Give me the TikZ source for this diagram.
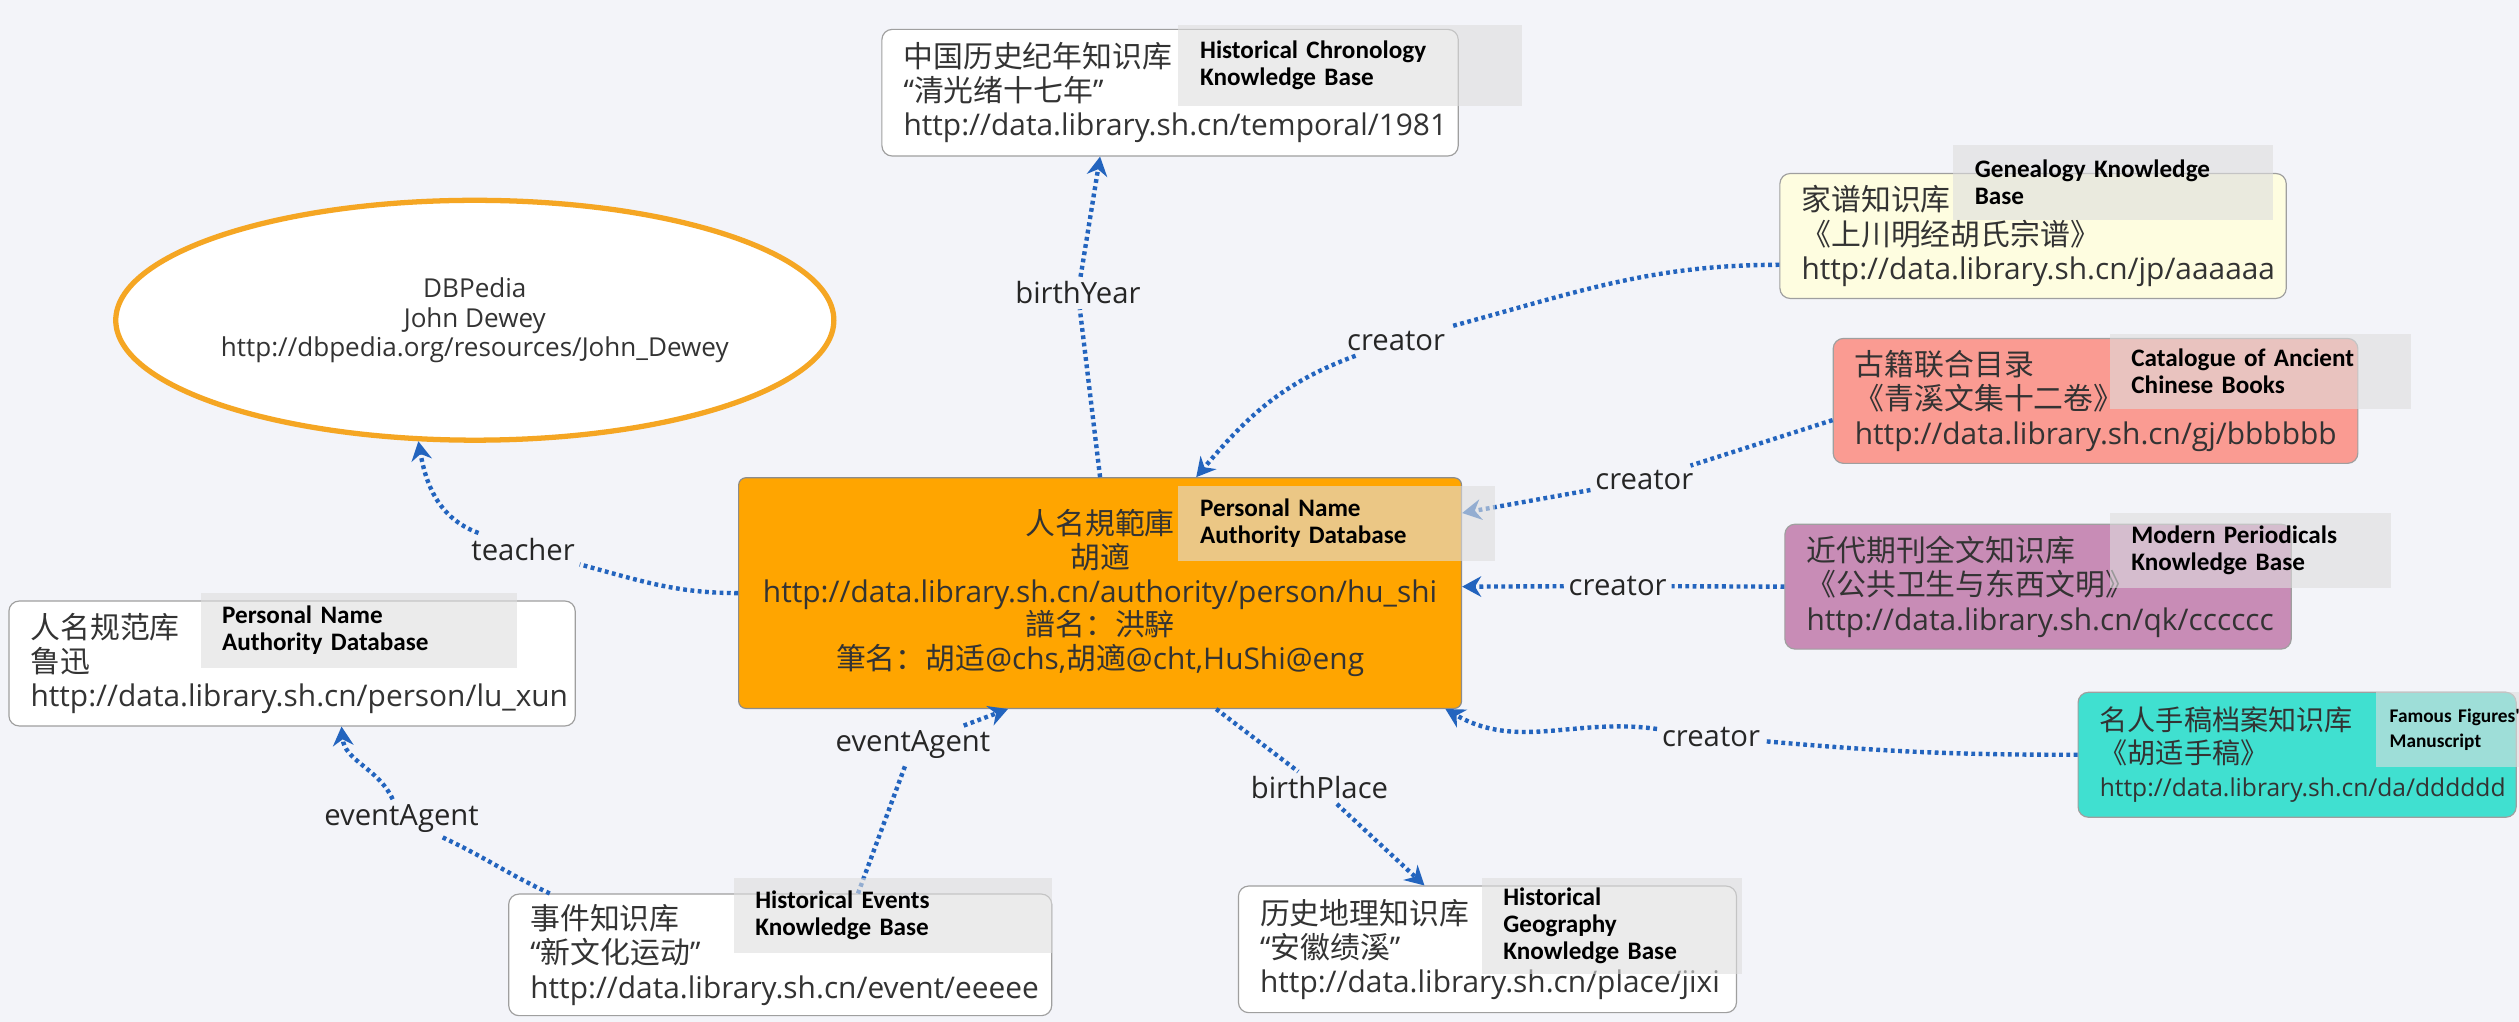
\documentclass[tikz,border=0pt]{standalone}
\usepackage{fontspec}
\setmainfont{Open Sans}
\newfontfamily\cjk{Noto Sans CJK SC}
\newfontfamily\lbl{Carlito}
\usetikzlibrary{arrows.meta,positioning,calc,shapes.geometric}

\definecolor{bg}{RGB}{243,244,249}
\definecolor{txt}{RGB}{51,51,51}
\definecolor{dotblue}{RGB}{35,100,190}
\definecolor{hub}{RGB}{255,165,0}
\definecolor{yel}{RGB}{254,253,224}
\definecolor{salm}{RGB}{250,155,146}
\definecolor{mauve}{RGB}{200,140,182}
\definecolor{turq}{RGB}{64,224,208}
\definecolor{ring}{RGB}{245,166,35}
\definecolor{tagc}{RGB}{222,222,222}

\begin{document}
\begin{tikzpicture}[x=0.02cm, y=-0.01923cm,
  box/.style={draw=gray!75, rounded corners=3.5pt, fill=white, text=txt, anchor=north west,
    align=left, inner xsep=0.26cm, minimum height=1.5cm, font=\fontsize{10.2}{11.7}\selectfont},
  tag/.style={fill=tagc, fill opacity=0.6, text opacity=1, anchor=north west, align=left,
    inner xsep=0.26cm, inner ysep=0pt, minimum height=0.9cm, font=\lbl\bfseries\fontsize{8.6}{9.3}\selectfont},
  link/.style={draw=dotblue, line width=1.5pt, dash pattern=on 1.3pt off 1.2pt,
    -{Stealth[length=6.5pt,width=7pt]}},
  lab/.style={text=black!85, font=\fontsize{10}{12}\selectfont, inner sep=1.5pt}]

\useasboundingbox (0,0) rectangle (1512,638);
\fill[bg] (0,0) rectangle (1512,638);

% the person in the middle
\node[box, fill=hub, draw=black!45, rounded corners=2.5pt, align=center, text width=8.16cm,
  minimum height=2.77cm, font=\fontsize{10.2}{11.5}\selectfont] (cen) at (443,298)
  {{\cjk 人名規範庫}\\{\cjk 胡適}\\http://data.library.sh.cn/authority/person/hu\_shi\\
   {\cjk 譜名：洪騂}\\{\cjk 筆名：胡适}@chs,{\cjk 胡適}@cht,HuShi@eng};

% linked records
\node[box, text width=6.40cm, minimum height=1.52cm] (chron) at (529,18)
  {{\cjk 中国历史纪年知识库}\\“{\cjk 清光绪十七年}”\\http://data.library.sh.cn/temporal/1981};
\node[box, fill=yel, text width=5.56cm] (gen) at (1068,108)
  {{\cjk 家谱知识库}\\{\cjk 《上川明经胡氏宗谱》}\\http://data.library.sh.cn/jp/aaaaaa};
\node[box, fill=salm, text width=5.78cm] (cat) at (1100,211)
  {{\cjk 古籍联合目录}\\{\cjk 《青溪文集十二卷》}\\http://data.library.sh.cn/gj/bbbbbb};
\node[box, fill=mauve, text width=5.56cm] (per) at (1071,327)
  {{\cjk 近代期刊全文知识库}\\{\cjk 《公共卫生与东西文明》}\\http://data.library.sh.cn/qk/cccccc};
\node[box, fill=turq, text width=4.74cm, font=\fontsize{9.6}{11.2}\selectfont] (fam) at (1247,432)
  {{\cjk 名人手稿档案知识库}\\{\cjk 《胡适手稿》}\\{\fontsize{8.4}{11.2}\selectfont http://data.library.sh.cn/da/dddddd}};
\node[box, text width=6.28cm] (lux) at (5,375)
  {{\cjk 人名规范库}\\{\cjk 鲁迅}\\http://data.library.sh.cn/person/lu\_xun};
\node[box, text width=6.00cm, minimum height=1.46cm] (evt) at (305,558)
  {{\cjk 事件知识库}\\“{\cjk 新文化运动}”\\http://data.library.sh.cn/event/eeeee};
\node[box, text width=5.46cm, minimum height=1.52cm] (geo) at (743,553)
  {{\cjk 历史地理知识库}\\“{\cjk 安徽绩溪}”\\http://data.library.sh.cn/place/jixi};

\node[ellipse, draw=ring, line width=1.8pt, fill=white, text=txt, minimum width=8.6cm,
  minimum height=2.88cm, inner sep=0pt, align=center, font=\fontsize{8.9}{10.1}\selectfont] (ell)
  at (285,200) {DBPedia\\John Dewey\\http://dbpedia.org/resources/John\_Dewey};

% edge labels
\node[lab] (lY) at (647,183) {birthYear};
\node[lab] (lG) at (838,213) {creator};
\node[lab] (lC) at (987,300) {creator};
\node[lab] (lP) at (971,366) {creator};
\node[lab] (lF) at (1027,460) {creator};
\node[lab] (lT) at (314,343) {teacher};
\node[lab] (lE) at (548,465) {eventAgent};
\node[lab] (lB) at (792,492) {birthPlace};
\node[lab] (lL) at (241,511) {eventAgent};

% links
\draw[link] (cen.north) -- (lY) -- (chron.south -| cen.north);
\draw[link] ($(gen.west)+(0,18)$) to[out=180,in=15] (lG) to[out=200,in=50] ($(cen.north west)+(275,0)$);
\draw[link] ($(cat.west)+(0,12)$) -- (lC) -- ($(cen.east)+(0,-50)$);
\draw[link] (per.west) -- (lP) -- (cen.east |- per.west);
\draw[link] (fam.west) to[out=180,in=-5] (lF) to[out=172,in=-30] ($(cen.south east)+(-10,0)$);
\draw[link] (cen.west) to[out=180,in=-15] (lT) to[out=160,in=-80] (ell.-115);
\draw[link] ($(evt.north west)+(210,0)$) -- (lE) -- ($(cen.south west)+(162,0)$);
\draw[link] ($(cen.south west)+(287,0)$) -- (lB) -- ($(geo.north west)+(112,0)$);
\draw[link] ($(evt.north west)+(25,0)$) to[out=155,in=-25] (lL) to[out=115,in=-85] ($(lux.south west)+(200,0)$);

% english notes on top
\node[tag, text width=3.60cm, minimum height=0.98cm] (tChron) at (707,15) {Historical Chronology\\Knowledge Base};
\node[tag, text width=3.32cm] (tGen) at (1172,90) {Genealogy Knowledge\\Base};
\node[tag, text width=3.10cm] (tCat) at (1266,208) {Catalogue of Ancient\\Chinese Books};
\node[tag, text width=2.86cm] (tPer) at (1266,320) {Modern Periodicals\\Knowledge Base};
\node[tag, text width=1.6cm, inner xsep=0.16cm, font=\lbl\bfseries\fontsize{6.6}{8.4}\selectfont] (tFam) at (1426,432) {Famous Figures'\\Manuscript};
\node[tag, text width=3.28cm] (tLux) at (120,370) {Personal Name\\Authority Database};
\node[tag, text width=3.30cm] (tEvt) at (440,548) {Historical Events\\Knowledge Base};
\node[tag, text width=2.60cm, minimum height=1.15cm] (tGeo) at (889,548) {Historical\\Geography\\Knowledge Base};
\node[tag, text width=3.28cm] (tCen) at (707,303) {Personal Name\\Authority Database};

\end{tikzpicture}
\end{document}
